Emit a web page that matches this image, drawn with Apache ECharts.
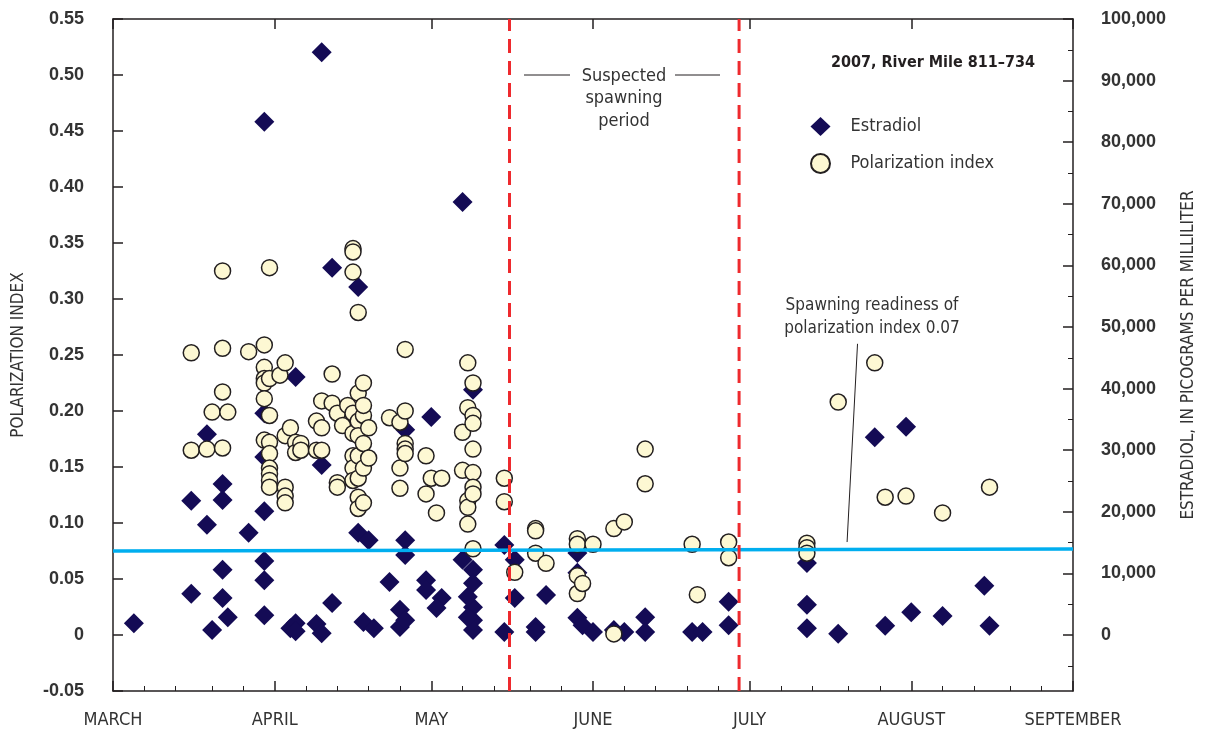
<!DOCTYPE html>
<html>
<head>
<meta charset="utf-8">
<script src="https://cdn.jsdelivr.net/npm/echarts@6/dist/echarts.min.js"></script>
<style>
html,body{margin:0;padding:0;background:#fff;}
#c{width:1206px;height:732px;}
</style>
</head>
<body>
<div id="c"></div>
<script>
// ---------- data ----------
const monthLabels = ['MARCH','APRIL','MAY','JUNE','JULY','AUGUST','SEPTEMBER'];
const monthStarts = ['2007-03-01','2007-04-01','2007-05-01','2007-06-01','2007-07-01','2007-08-01','2007-09-01'];
const leftTickLabels = ['-0.05','0','0.05','0.10','0.15','0.20','0.25','0.30','0.35','0.40','0.45','0.50','0.55'];
const rightTickValues = [0,10000,20000,30000,40000,50000,60000,70000,80000,90000,100000];

const estradiolDates = [
 '2007-03-05','2007-03-16','2007-03-16','2007-03-19','2007-03-19','2007-03-20',
 '2007-03-22','2007-03-22','2007-03-22','2007-03-22','2007-03-23','2007-03-27',
 '2007-03-30','2007-03-30','2007-03-30','2007-03-30','2007-03-30','2007-03-30','2007-03-30',
 '2007-04-04','2007-04-05','2007-04-05','2007-04-05','2007-04-09',
 '2007-04-10','2007-04-10','2007-04-10','2007-04-12','2007-04-12',
 '2007-04-17','2007-04-17','2007-04-19','2007-04-18','2007-04-20','2007-04-23',
 '2007-04-25','2007-04-25','2007-04-26','2007-04-26','2007-04-26','2007-04-26',
 '2007-04-30','2007-04-30','2007-05-01','2007-05-03','2007-05-02',
 '2007-05-07','2007-05-07','2007-05-09','2007-05-09','2007-05-09','2007-05-09','2007-05-09','2007-05-09',
 '2007-05-08','2007-05-08','2007-05-15','2007-05-15','2007-05-17','2007-05-17',
 '2007-05-23','2007-05-21','2007-05-21','2007-05-29','2007-05-29','2007-05-29','2007-05-30',
 '2007-06-01','2007-06-05','2007-06-07','2007-06-11','2007-06-11','2007-06-20','2007-06-22',
 '2007-06-27','2007-06-27','2007-07-12','2007-07-12','2007-07-12','2007-07-18',
 '2007-07-25','2007-07-27','2007-07-31','2007-08-01','2007-08-07','2007-08-15','2007-08-16'
];
const estradiolValues = [
 1900,6700,21800,32600,17900,800,
 10600,6000,21900,24500,2900,16600,
 83300,36000,28900,20100,12000,8900,3200,
 1100,1900,600,41900,1800,
 300,94600,27600,5200,59600,
 56500,16600,15400,2100,1100,8600,
 4100,1300,2400,15400,13000,33300,
 8900,7300,35400,6000,4400,
 70300,12200,10600,8400,4500,2400,800,39800,
 6200,2900,14600,500,12200,6000,
 6500,1300,500,13300,10100,2800,1600,
 500,800,500,2900,500,500,500,
 5400,1600,11700,4900,1100,200,
 32100,1500,33800,3700,3100,8000,1500
];

const polarizationDates = [
 '2007-03-16','2007-03-16','2007-03-19','2007-03-20','2007-03-23',
 '2007-03-22','2007-03-22','2007-03-22','2007-03-22','2007-03-27',
 '2007-03-30','2007-03-30','2007-03-30','2007-03-30','2007-03-30','2007-03-30',
 '2007-03-31','2007-03-31','2007-03-31','2007-03-31','2007-03-31','2007-03-31','2007-03-31','2007-03-31','2007-03-31',
 '2007-04-02','2007-04-03','2007-04-03','2007-04-03','2007-04-03','2007-04-03',
 '2007-04-04','2007-04-05','2007-04-05','2007-04-06','2007-04-06',
 '2007-04-09','2007-04-09','2007-04-10','2007-04-10','2007-04-10',
 '2007-04-12','2007-04-12','2007-04-13','2007-04-13','2007-04-13','2007-04-14','2007-04-15',
 '2007-04-16','2007-04-16','2007-04-16','2007-04-16','2007-04-16','2007-04-16','2007-04-16','2007-04-16',
 '2007-04-17','2007-04-17','2007-04-17','2007-04-17','2007-04-17','2007-04-17','2007-04-17','2007-04-17',
 '2007-04-18','2007-04-18','2007-04-18','2007-04-18','2007-04-18','2007-04-18',
 '2007-04-19','2007-04-19','2007-04-23',
 '2007-04-25','2007-04-25','2007-04-25',
 '2007-04-26','2007-04-26','2007-04-26','2007-04-26','2007-04-26',
 '2007-04-30','2007-04-30','2007-05-01','2007-05-02','2007-05-03',
 '2007-05-07','2007-05-07',
 '2007-05-08','2007-05-08','2007-05-08','2007-05-08','2007-05-08',
 '2007-05-09','2007-05-09','2007-05-09','2007-05-09','2007-05-09','2007-05-09','2007-05-09','2007-05-09',
 '2007-05-15','2007-05-15','2007-05-17',
 '2007-05-21','2007-05-21','2007-05-21','2007-05-23',
 '2007-05-29','2007-05-29','2007-05-29','2007-05-29','2007-05-30',
 '2007-06-01','2007-06-05','2007-06-05','2007-06-07','2007-06-11','2007-06-11',
 '2007-06-20','2007-06-21','2007-06-27','2007-06-27',
 '2007-07-12','2007-07-12','2007-07-12','2007-07-18','2007-07-25','2007-07-27','2007-07-31',
 '2007-08-07','2007-08-16'
];
const polarizationValues = [
 0.252,0.165,0.166,0.199,0.199,
 0.325,0.256,0.217,0.167,0.253,
 0.259,0.239,0.229,0.225,0.211,0.174,
 0.229,0.328,0.196,0.172,0.162,0.149,0.144,0.138,0.132,
 0.232,0.243,0.178,0.132,0.124,0.118,
 0.185,0.172,0.163,0.171,0.165,
 0.191,0.165,0.185,0.165,0.209,
 0.233,0.207,0.198,0.136,0.132,0.187,0.205,
 0.198,0.180,0.160,0.149,0.138,0.345,0.342,0.324,
 0.191,0.178,0.160,0.140,0.123,0.113,0.288,0.216,
 0.196,0.171,0.149,0.118,0.225,0.205,
 0.185,0.158,0.194,
 0.190,0.149,0.131,
 0.200,0.255,0.171,0.166,0.162,
 0.160,0.126,0.140,0.109,0.140,
 0.181,0.147,
 0.243,0.203,0.120,0.114,0.099,
 0.225,0.196,0.189,0.166,0.145,0.132,0.126,0.077,
 0.140,0.119,0.056,
 0.095,0.093,0.073,0.064,
 0.086,0.081,0.053,0.037,0.046,
 0.081,0.095,0.001,0.101,0.166,0.135,
 0.081,0.036,0.083,0.069,
 0.082,0.078,0.073,0.208,0.243,0.123,0.124,
 0.109,0.132
];

const readinessLine = { startDate:'2007-03-01', endDate:'2007-09-01', startValue:0.075, endValue:0.0768 };
const spawnStart = '2007-05-16';
const spawnEnd = '2007-06-29';
const leaderLine = [['2007-07-21', 0.26], ['2007-07-19', 0.083]];

// ---------- helpers ----------
const ORIGIN = Date.UTC(2007,2,1);
function dayOf(s){
  const p = s.split('-');
  return (Date.UTC(+p[0], +p[1]-1, +p[2]) - ORIGIN) / 86400000;
}
const monthDays = monthStarts.map(dayOf);
const minorDays = [];
for (let m = 0; m < monthDays.length - 1; m++) {
  const a = monthDays[m], b = monthDays[m+1];
  for (let k = 1; k < 5; k++) minorDays.push(Math.round(a + (b - a) * k / 5));
}
const Y2MAX = 100000;
const Y2MIN = -Y2MAX * 0.05 / 0.55;
const rightMinor = [-5000];
for (let v = 5000; v < 100000; v += 10000) rightMinor.push(v);

const estData = estradiolDates.map((d,i)=>[dayOf(d), estradiolValues[i]]);
const polData = polarizationDates.map((d,i)=>[dayOf(d), polarizationValues[i]]);

const NARROW = "'Liberation Sans Narrow','DejaVu Sans Condensed','Arial Narrow','Liberation Sans',sans-serif";
const BOLD = "'Liberation Sans',Arial,sans-serif";
const AX = '#231f20';
const XMAX = monthDays[monthDays.length-1];

const chart = echarts.init(document.getElementById('c'), null, {renderer:'canvas'});
const option = {
  animation:false,
  backgroundColor:'#fff',
  grid:{left:113,right:133,top:19,bottom:41,containLabel:false},
  legend:{
    data:[{name:'Estradiol', icon:'diamond'},{name:'Polarization index', icon:'circle'}],
    orient:'vertical', left:805, top:112, itemWidth:20, itemHeight:19, itemGap:17,
    textStyle:{fontFamily:NARROW, fontSize:18, color:'#333', padding:[0,0,0,15]},
    selectedMode:false
  },
  xAxis:[
    {type:'value', min:0, max:XMAX, position:'bottom',
     axisLine:{show:true,onZero:false,lineStyle:{color:AX,width:1.5}},
     axisTick:{show:true,inside:true,length:10,customValues:monthDays,lineStyle:{color:AX,width:1.5}},
     axisLabel:{customValues:monthDays, margin:20, fontFamily:NARROW, fontSize:18, color:'#333',
       formatter:(v)=>monthLabels[monthDays.indexOf(Math.round(v))] || ''},
     splitLine:{show:false}},
    {type:'value', min:0, max:XMAX, position:'bottom',
     axisLine:{show:false,onZero:false},
     axisTick:{show:true,inside:true,length:5,customValues:minorDays,lineStyle:{color:AX,width:1}},
     axisLabel:{show:false}, splitLine:{show:false}},
    {type:'value', min:0, max:XMAX, position:'top',
     axisLine:{show:true,onZero:false,lineStyle:{color:AX,width:1.5}},
     axisTick:{show:true,inside:true,length:10,customValues:monthDays,lineStyle:{color:AX,width:1.5}},
     axisLabel:{show:false}, splitLine:{show:false}}
  ],
  yAxis:[
    {type:'value', min:-0.05, max:0.55, interval:0.05, position:'left',
     name:'POLARIZATION INDEX', nameLocation:'middle', nameGap:86,
     nameTextStyle:{fontFamily:NARROW, fontSize:17, color:'#333'},
     axisLine:{show:true,onZero:false,lineStyle:{color:AX,width:1.5}},
     axisTick:{show:true,inside:true,length:10,lineStyle:{color:AX,width:1.5}},
     axisLabel:{margin:29, fontFamily:BOLD, fontWeight:'bold', fontSize:18, color:'#333',
       formatter:(v)=>{ const i = Math.round((v+0.05)/0.05); return leftTickLabels[i] ?? ''; }},
     splitLine:{show:false}},
    {type:'value', min:Y2MIN, max:Y2MAX, position:'right',
     name:'ESTRADIOL, IN PICOGRAMS PER MILLILITER', nameLocation:'middle', nameGap:107, nameRotate:90,
     nameTextStyle:{fontFamily:NARROW, fontSize:17, color:'#333'},
     axisLine:{show:true,onZero:false,lineStyle:{color:AX,width:1.5}},
     axisTick:{show:true,inside:true,length:10,customValues:rightTickValues,lineStyle:{color:AX,width:1.5}},
     axisLabel:{customValues:rightTickValues, margin:28, fontFamily:BOLD, fontWeight:'bold', fontSize:18, color:'#333',
       formatter:(v)=>Math.round(v).toLocaleString('en-US')},
     splitLine:{show:false}},
    {type:'value', min:Y2MIN, max:Y2MAX, position:'right',
     axisLine:{show:false,onZero:false},
     axisTick:{show:true,inside:true,length:5,customValues:rightMinor,lineStyle:{color:AX,width:1}},
     axisLabel:{show:false}, splitLine:{show:false}}
  ],
  series:[
    {name:'Estradiol', type:'scatter', xAxisIndex:0, yAxisIndex:1, data:estData,
     symbol:'diamond', symbolSize:20, itemStyle:{color:'#140b55', opacity:1}, z:2},
    {name:'Polarization index', type:'scatter', xAxisIndex:0, yAxisIndex:0, data:polData,
     symbol:'circle', symbolSize:16, itemStyle:{color:'#fdf8d3', borderColor:'#231f20', borderWidth:1.5, opacity:1}, z:3},
    {name:'readiness', type:'line', xAxisIndex:0, yAxisIndex:0, silent:true, symbol:'none',
     data:[[dayOf(readinessLine.startDate), readinessLine.startValue],[dayOf(readinessLine.endDate), readinessLine.endValue]],
     lineStyle:{color:'#00aeef', width:3.5}, z:4},
    {name:'spawnStart', type:'line', xAxisIndex:0, yAxisIndex:0, silent:true, symbol:'none',
     data:[[dayOf(spawnStart),-0.05],[dayOf(spawnStart),0.55]],
     lineStyle:{color:'#ee2a2e', width:3, type:[14,8]}, z:5},
    {name:'spawnEnd', type:'line', xAxisIndex:0, yAxisIndex:0, silent:true, symbol:'none',
     data:[[dayOf(spawnEnd),-0.05],[dayOf(spawnEnd),0.55]],
     lineStyle:{color:'#ee2a2e', width:3, type:[14,8]}, z:5},
    {name:'leader', type:'line', xAxisIndex:0, yAxisIndex:0, silent:true, symbol:'none',
     data:leaderLine.map(p=>[dayOf(p[0])+0.7, p[1]]),
     lineStyle:{color:'#231f20', width:1}, z:5}
  ],
  graphic:[
    {type:'text', right:171, top:55,
     style:{text:'2007, River Mile 811\u2013734', font:"bold 16px 'Liberation Sans Narrow','DejaVu Sans Condensed',sans-serif", fill:'#231f20'}},
    {type:'text', x:624, y:65,
     style:{text:'Suspected\nspawning\nperiod', font:"18px 'Liberation Sans Narrow','DejaVu Sans Condensed',sans-serif", fill:'#333', align:'center', verticalAlign:'top', lineHeight:22.5}},
    {type:'line', shape:{x1:524,y1:75,x2:570,y2:75}, style:{stroke:'#231f20',lineWidth:1}},
    {type:'line', shape:{x1:675,y1:75,x2:720,y2:75}, style:{stroke:'#231f20',lineWidth:1}},
    {type:'text', x:872, y:294,
     style:{text:'Spawning readiness of\npolarization index 0.07', font:"17px 'Liberation Sans Narrow','DejaVu Sans Condensed',sans-serif", fill:'#333', align:'center', verticalAlign:'top', lineHeight:23}}
  ]
};
chart.setOption(option);
</script>
</body>
</html>
